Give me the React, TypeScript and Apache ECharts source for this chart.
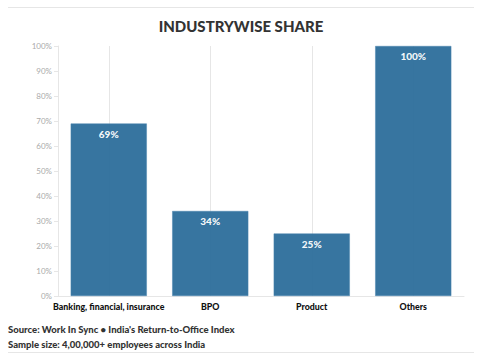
import React, { useEffect, useRef } from "react";
import * as echarts from "echarts";

const categories = ["Banking, financial, insurance", "BPO", "Product", "Others"];
const shares = [69, 34, 25, 100];
const yTicks = [0, 10, 20, 30, 40, 50, 60, 70, 80, 90, 100];

const FONT = "Lato, 'Noto Sans', sans-serif";

export default function App() {
  const ref = useRef<HTMLDivElement>(null);
  useEffect(() => {
    if (!ref.current) return;
    const chart = echarts.init(ref.current, null, { renderer: "svg" });
    chart.setOption({
      animation: false,
      backgroundColor: "#ffffff",
      textStyle: { fontFamily: FONT },
      title: {
        text: "INDUSTRYWISE SHARE",
        left: "center",
        top: 13,
        textStyle: { fontFamily: FONT, fontSize: 15, fontWeight: 900, color: "#333333" },
      },
      graphic: [
        { type: "line", shape: { x1: 8, y1: 7.5, x2: 474, y2: 7.5 }, style: { stroke: "#e6e6e6", lineWidth: 1 } },
        { type: "line", shape: { x1: 8, y1: 352.5, x2: 474, y2: 352.5 }, style: { stroke: "#e6e6e6", lineWidth: 1 } },
        {
          type: "text",
          left: 8,
          top: 322,
          style: {
            text: "Source: Work In Sync • India's Return-to-Office Index\nSample size: 4,00,000+ employees across India",
            fontFamily: FONT,
            fontSize: 9.5,
            fontWeight: 900,
            fill: "#333333",
            lineHeight: 15,
          },
        },
      ],
      grid: { left: 58, right: 18, top: 46, bottom: 64 },
      xAxis: {
        type: "category",
        data: categories,
        axisLine: { show: true, lineStyle: { color: "#e6e6e6" } },
        axisTick: { show: false },
        axisLabel: { fontFamily: FONT, fontSize: 8.8, fontWeight: 900, color: "#111111", margin: 6, interval: 0 },
        splitLine: { show: true, alignWithLabel: true, lineStyle: { color: "#e6e6e6", width: 1 } },
      },
      yAxis: {
        type: "value",
        min: 0,
        max: 100,
        interval: 10,
        axisLine: { show: true, lineStyle: { color: "#e6e6e6" } },
        axisTick: { show: true, length: 4, lineStyle: { color: "#e6e6e6" } },
        axisLabel: {
          fontFamily: FONT,
          fontSize: 8,
          color: "#aaaaaa",
          margin: 6,
          formatter: (v: number) => (yTicks.includes(v) ? v + "%" : ""),
        },
        splitLine: { show: false },
      },
      series: [
        {
          type: "bar",
          data: shares,
          barCategoryGap: "25%",
          itemStyle: { color: "#2f6f9c", opacity: 0.96, borderColor: "#4a84ad", borderWidth: 0.5 },
          label: {
            show: true,
            position: "insideTop",
            distance: 5,
            formatter: "{c}%",
            color: "#ffffff",
            fontFamily: FONT,
            fontSize: 10,
            fontWeight: 900,
          },
        },
      ],
    });
    return () => chart.dispose();
  }, []);
  return <div ref={ref} style={{ width: 482, height: 360, position: "absolute", left: 0, top: 0 }} />;
}
